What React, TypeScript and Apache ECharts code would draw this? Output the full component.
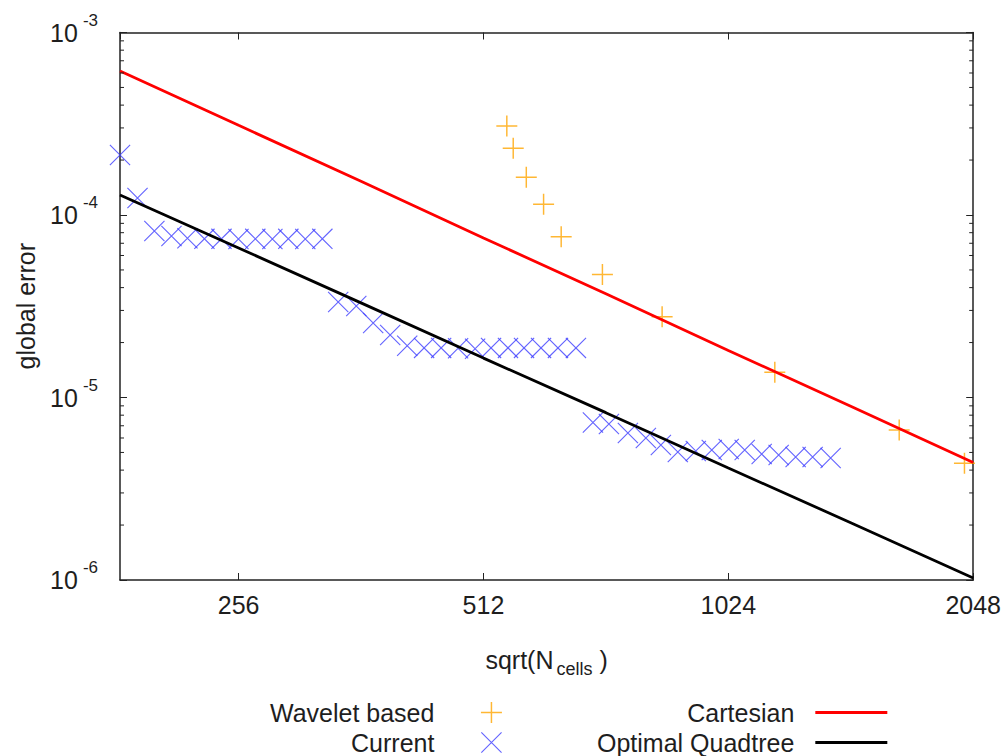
import React, { useEffect, useRef } from 'react';
import * as echarts from 'echarts';

// ---- data ----
const X_MIN = 183;
const X_MAX = 2048;
const Y_MIN = 1e-6;
const Y_MAX = 1e-3;

const waveletN = [547, 557, 578, 607, 638, 717, 849, 1168, 1661, 1998];
const waveletErr = [3.07e-4, 2.32e-4, 1.61e-4, 1.145e-4, 7.6e-5, 4.72e-5, 2.77e-5, 1.374e-5, 6.64e-6, 4.36e-6];

const currentN = [
  183, 192.3, 201.7, 211.7, 221.5, 232.4, 243.9, 255.9, 268.4, 281.7, 294.7, 309.2, 324.5,
  339.4, 357.2, 374.7, 393.2, 412.6, 432.8, 454.2, 476.5, 500, 523.1, 548.8, 574.3, 602.6, 632.2, 665.2,
  698, 730.3, 770.6, 810.8, 846, 887.6, 933.9, 977.1, 1025.1, 1072.6, 1125.4, 1180.8, 1239, 1300, 1368,
];
const currentErr = [
  2.13e-4, 1.24e-4, 8.17e-5, 7.67e-5, 7.45e-5, 7.4e-5, 7.4e-5, 7.38e-5, 7.4e-5, 7.38e-5, 7.4e-5, 7.38e-5, 7.4e-5,
  3.34e-5, 3.17e-5, 2.56e-5, 2.2e-5, 1.92e-5, 1.87e-5, 1.87e-5, 1.86e-5, 1.85e-5, 1.87e-5, 1.87e-5, 1.87e-5, 1.87e-5, 1.87e-5, 1.87e-5,
  7.29e-6, 7.16e-6, 6.39e-6, 6.0e-6, 5.49e-6, 5.03e-6, 5.09e-6, 5.16e-6, 5.22e-6, 5.16e-6, 4.9e-6, 4.84e-6, 4.72e-6, 4.72e-6, 4.66e-6,
];

const cartesianN = [183, 256, 362, 512, 724, 1024, 1448, 2048];
const cartesianErr = [6.15e-4, 3.1e-4, 1.53e-4, 7.49e-5, 3.7e-5, 1.81e-5, 8.95e-6, 4.4e-6];

const quadtreeN = [183, 256, 362, 512, 724, 1024, 1448, 2048];
const quadtreeErr = [1.287e-4, 6.6e-5, 3.3e-5, 1.644e-5, 8.26e-6, 4.11e-6, 2.06e-6, 1.026e-6];

const yMinorTicks = [
  2e-6, 3e-6, 4e-6, 5e-6, 6e-6, 7e-6, 8e-6, 9e-6,
  2e-5, 3e-5, 4e-5, 5e-5, 6e-5, 7e-5, 8e-5, 9e-5,
  2e-4, 3e-4, 4e-4, 5e-4, 6e-4, 7e-4, 8e-4, 9e-4,
];

const legendLeftItems = ['Wavelet based', 'Current'];
const legendRightItems = ['Cartesian', 'Optimal Quadtree'];

// ---- styling ----
const FONT = '"Liberation Sans", Arial, Helvetica, sans-serif';
const TEXT = '#1e1e1e';
const PLUS = 'path://M0,9.3H20V10.7H0Z M9.3,0H10.7V20H9.3Z';
const CROSS = 'path://M0,0.75L0.75,0L20,19.25L19.25,20Z M19.25,0L20,0.75L0.75,20L0,19.25Z';
const LINE_ICON = 'path://M0,0H72V3H0Z';

const axisLine = { show: true, onZero: false, lineStyle: { color: '#222', width: 1.5 } };
const axisTick = { show: true, inside: true, length: 7, lineStyle: { color: '#222', width: 1 } };

const legendText = { fontSize: 25, color: TEXT, fontFamily: FONT, padding: [0, 16, 0, 0] };

export default function App() {
  const ref = useRef<HTMLDivElement>(null);

  useEffect(() => {
    if (!ref.current) return;
    const chart = echarts.init(ref.current, null, { renderer: 'svg' });

    const xBase: any = {
      type: 'log',
      logBase: 2,
      min: X_MIN,
      max: X_MAX,
      splitLine: { show: false },
      minorTick: { show: false },
      axisLine,
      axisTick,
    };
    const yBase: any = {
      type: 'log',
      logBase: 10,
      min: Y_MIN,
      max: Y_MAX,
      splitLine: { show: false },
      axisLine,
      axisTick,
    };

    const legendBase: any = {
      orient: 'vertical',
      align: 'right',
      top: 700,
      height: 60,
      padding: 0,
      itemWidth: 72,
      itemHeight: 21,
      itemGap: 5,
      selectedMode: false,
      textStyle: legendText,
    };

    const option: any = {
      animation: false,
      textStyle: { fontFamily: FONT },
      grid: { left: 120, right: 29, top: 32.5, bottom: 176, containLabel: false },
      xAxis: [
        {
          ...xBase,
          position: 'bottom',
          axisLabel: {
            show: true,
            fontSize: 25,
            color: TEXT,
            fontFamily: FONT,
            margin: 12,
            showMinLabel: false,
            showMaxLabel: true,
            formatter: (v: number) => String(Math.round(v)),
          },
          name: '{a|sqrt(N}{c|cells}{a| )}',
          nameLocation: 'middle',
          nameGap: 62,
          nameTextStyle: {
            color: TEXT,
            fontFamily: FONT,
            rich: {
              a: { fontSize: 25, color: TEXT, fontFamily: FONT },
              c: { fontSize: 18, color: TEXT, fontFamily: FONT, padding: [18, 0, 0, 3] },
            },
          },
        },
        {
          ...xBase,
          position: 'top',
          axisLabel: { show: false },
        },
      ],
      yAxis: [
        {
          ...yBase,
          position: 'left',
          axisLabel: {
            show: true,
            margin: 22,
            color: TEXT,
            fontFamily: FONT,
            formatter: (v: number) => `{b|10}{s|${Math.round(Math.log10(v))}}`,
            rich: {
              b: { fontSize: 25, color: TEXT, fontFamily: FONT },
              s: { fontSize: 17, color: TEXT, fontFamily: FONT, padding: [0, 0, 25, 5] },
            },
          },
          name: 'global error',
          nameLocation: 'middle',
          nameGap: 82,
          nameTextStyle: { fontSize: 25, color: TEXT, fontFamily: FONT },
        },
        {
          ...yBase,
          position: 'right',
          axisLabel: { show: false },
        },
      ],
      legend: [
        {
          ...legendBase,
          left: 270,
          data: legendLeftItems,
        },
        {
          ...legendBase,
          left: 597,
          data: legendRightItems.map((name) => ({ name, icon: LINE_ICON })),
        },
      ],
      series: [
        {
          name: 'Wavelet based',
          type: 'scatter',
          xAxisIndex: 0,
          yAxisIndex: 0,
          symbol: PLUS,
          symbolSize: 21,
          itemStyle: { color: '#ffa500' },
          data: waveletN.map((n, i) => [n, waveletErr[i]]),
        },
        {
          name: 'Current',
          type: 'scatter',
          xAxisIndex: 0,
          yAxisIndex: 0,
          symbol: CROSS,
          symbolSize: 21,
          itemStyle: { color: '#3c3cff' },
          data: currentN.map((n, i) => [n, currentErr[i]]),
        },
        {
          name: 'Cartesian',
          type: 'line',
          xAxisIndex: 0,
          yAxisIndex: 0,
          symbol: 'none',
          lineStyle: { color: '#ff0000', width: 2.8 },
          itemStyle: { color: '#ff0000' },
          data: cartesianN.map((n, i) => [n, cartesianErr[i]]),
        },
        {
          name: 'Optimal Quadtree',
          type: 'line',
          xAxisIndex: 0,
          yAxisIndex: 0,
          symbol: 'none',
          lineStyle: { color: '#000000', width: 2.8 },
          itemStyle: { color: '#000000' },
          data: quadtreeN.map((n, i) => [n, quadtreeErr[i]]),
        },
        {
          type: 'custom',
          xAxisIndex: 0,
          yAxisIndex: 0,
          silent: true,
          clip: false,
          z: 5,
          data: yMinorTicks.map((v) => [X_MIN, v]),
          renderItem: (params: any, api: any) => {
            const p = api.coord([api.value(0), api.value(1)]);
            const cs = params.coordSys;
            const y = p[1];
            return {
              type: 'group',
              children: [
                { type: 'line', shape: { x1: cs.x, y1: y, x2: cs.x + 4, y2: y }, style: { stroke: '#222', lineWidth: 1 } },
                { type: 'line', shape: { x1: cs.x + cs.width - 4, y1: y, x2: cs.x + cs.width, y2: y }, style: { stroke: '#222', lineWidth: 1 } },
              ],
            };
          },
        },
      ],
    };

    chart.setOption(option);
    return () => chart.dispose();
  }, []);

  return (
    <div
      ref={ref}
      style={{ position: 'fixed', left: 0, top: 0, width: 1004, height: 756, background: '#fff' }}
    />
  );
}
